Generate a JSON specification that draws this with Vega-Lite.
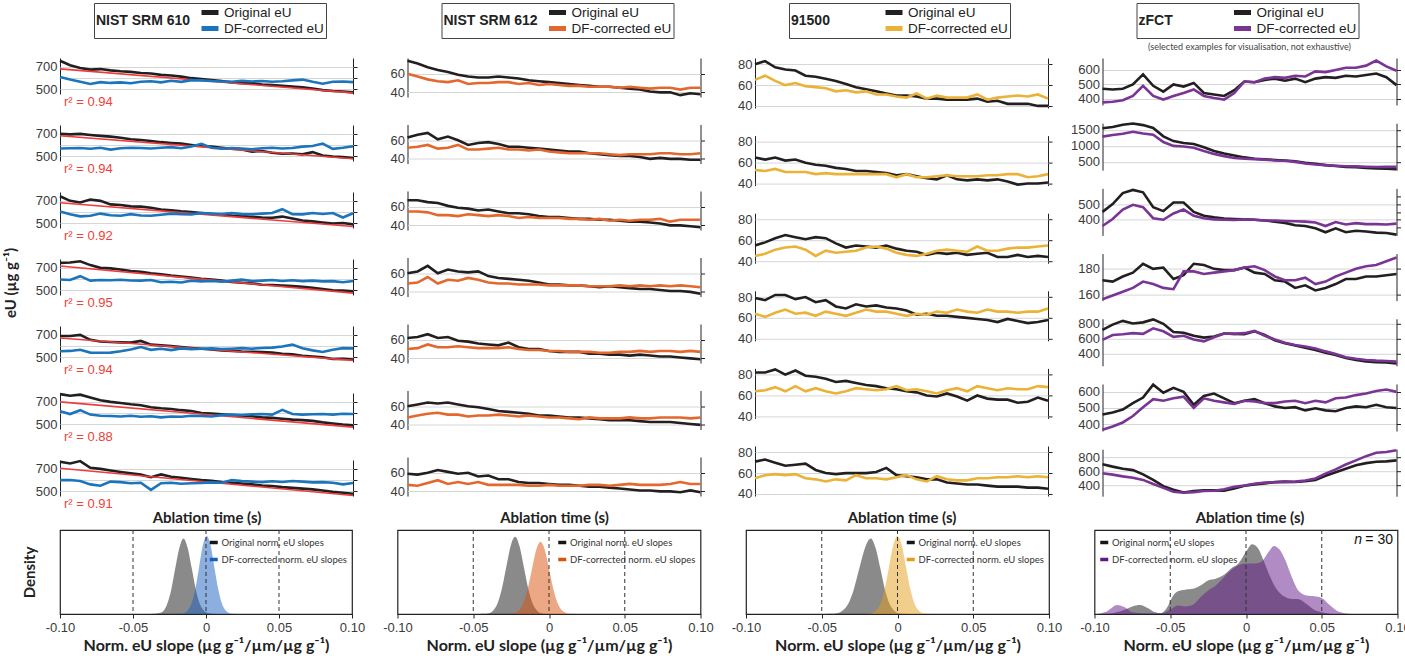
{
  "$schema": "https://vega.github.io/schema/vega-lite/v6.json",
  "padding": {"left": 3, "right": 2, "top": 2, "bottom": 0},
  "background": "white",
  "config": {
    "view": {"stroke": null},
    "font": "Liberation Sans",
    "axis": {"labelFont": "Liberation Sans", "labelColor": "#3a3a3a", "labelFontSize": 13},
    "axisY": {"gridColor": "#d6d6d6", "domainColor": "#222", "tickColor": "#222", "labelPadding": 3},
    "axisLeft": {"ticks": false, "minExtent": 32, "format": "d"},
    "axisRight": {"labels": false, "grid": false, "tickSize": 4},
    "legend": {"orient": "none", "direction": "vertical", "titleOrient": "left", "titleAnchor": "middle", "titleBaseline": "middle", "titleFont": "Liberation Sans", "titleFontSize": 14, "titleFontWeight": "bold", "titleColor": "#222", "titlePadding": 8, "labelFont": "Liberation Sans", "labelFontSize": 13.5, "labelColor": "#222", "labelOffset": 3, "symbolStrokeWidth": 5, "symbolSize": 289, "strokeColor": "#444", "padding": 2, "rowPadding": 1, "clipHeight": 15}
  },
  "datasets": {
    "c1": [
      {"p":1,"t":0,"o":755,"c":608,"f":682,"r":"r² = 0.94"},{"p":1,"t":1,"o":715,"c":585},{"p":1,"t":2,"o":690,"c":565},{"p":1,"t":3,"o":675,"c":545},{"p":1,"t":4,"o":680,"c":562},{"p":1,"t":5,"o":668,"c":555},{"p":1,"t":6,"o":660,"c":560},{"p":1,"t":7,"o":655,"c":552},{"p":1,"t":8,"o":645,"c":565},{"p":1,"t":9,"o":640,"c":570},{"p":1,"t":10,"o":628,"c":560},{"p":1,"t":11,"o":622,"c":575},{"p":1,"t":12,"o":612,"c":565},{"p":1,"t":13,"o":598,"c":580},{"p":1,"t":14,"o":590,"c":578},{"p":1,"t":15,"o":580,"c":572},{"p":1,"t":16,"o":572,"c":568},{"p":1,"t":17,"o":560,"c":565},{"p":1,"t":18,"o":552,"c":575},{"p":1,"t":19,"o":555,"c":568},{"p":1,"t":20,"o":540,"c":572},{"p":1,"t":21,"o":535,"c":565},{"p":1,"t":22,"o":528,"c":570},{"p":1,"t":23,"o":522,"c":578},{"p":1,"t":24,"o":515,"c":585},{"p":1,"t":25,"o":505,"c":565},{"p":1,"t":26,"o":490,"c":548},{"p":1,"t":27,"o":482,"c":565},{"p":1,"t":28,"o":478,"c":568},{"p":1,"t":29,"o":470,"c":562,"f":465},
      {"p":2,"t":0,"o":700,"c":568,"f":683,"r":"r² = 0.94"},{"p":2,"t":1,"o":695,"c":570},{"p":2,"t":2,"o":700,"c":572},{"p":2,"t":3,"o":690,"c":565},{"p":2,"t":4,"o":682,"c":575},{"p":2,"t":5,"o":675,"c":558},{"p":2,"t":6,"o":665,"c":570},{"p":2,"t":7,"o":652,"c":575},{"p":2,"t":8,"o":645,"c":572},{"p":2,"t":9,"o":635,"c":568},{"p":2,"t":10,"o":625,"c":575},{"p":2,"t":11,"o":618,"c":580},{"p":2,"t":12,"o":612,"c":570},{"p":2,"t":13,"o":600,"c":585},{"p":2,"t":14,"o":590,"c":610},{"p":2,"t":15,"o":585,"c":575},{"p":2,"t":16,"o":575,"c":565},{"p":2,"t":17,"o":565,"c":572},{"p":2,"t":18,"o":560,"c":568},{"p":2,"t":19,"o":540,"c":560},{"p":2,"t":20,"o":545,"c":570},{"p":2,"t":21,"o":530,"c":575},{"p":2,"t":22,"o":520,"c":568},{"p":2,"t":23,"o":522,"c":572},{"p":2,"t":24,"o":515,"c":585},{"p":2,"t":25,"o":535,"c":590},{"p":2,"t":26,"o":505,"c":612},{"p":2,"t":27,"o":495,"c":565},{"p":2,"t":28,"o":490,"c":575},{"p":2,"t":29,"o":482,"c":588,"f":475},
      {"p":3,"t":0,"o":742,"c":605,"f":683,"r":"r² = 0.92"},{"p":3,"t":1,"o":700,"c":580},{"p":3,"t":2,"o":685,"c":560},{"p":3,"t":3,"o":712,"c":565},{"p":3,"t":4,"o":700,"c":585},{"p":3,"t":5,"o":668,"c":570},{"p":3,"t":6,"o":662,"c":565},{"p":3,"t":7,"o":650,"c":580},{"p":3,"t":8,"o":648,"c":568},{"p":3,"t":9,"o":638,"c":565},{"p":3,"t":10,"o":622,"c":575},{"p":3,"t":11,"o":615,"c":585},{"p":3,"t":12,"o":605,"c":580},{"p":3,"t":13,"o":598,"c":578},{"p":3,"t":14,"o":590,"c":590},{"p":3,"t":15,"o":582,"c":585},{"p":3,"t":16,"o":575,"c":582},{"p":3,"t":17,"o":568,"c":590},{"p":3,"t":18,"o":565,"c":580},{"p":3,"t":19,"o":555,"c":578},{"p":3,"t":20,"o":550,"c":585},{"p":3,"t":21,"o":548,"c":590},{"p":3,"t":22,"o":558,"c":625},{"p":3,"t":23,"o":540,"c":580},{"p":3,"t":24,"o":522,"c":578},{"p":3,"t":25,"o":515,"c":590},{"p":3,"t":26,"o":505,"c":582},{"p":3,"t":27,"o":495,"c":590},{"p":3,"t":28,"o":500,"c":550},{"p":3,"t":29,"o":488,"c":588,"f":469},
      {"p":4,"t":0,"o":745,"c":595,"f":717,"r":"r² = 0.95"},{"p":4,"t":1,"o":748,"c":590},{"p":4,"t":2,"o":760,"c":625},{"p":4,"t":3,"o":725,"c":585},{"p":4,"t":4,"o":700,"c":590},{"p":4,"t":5,"o":695,"c":588},{"p":4,"t":6,"o":685,"c":592},{"p":4,"t":7,"o":672,"c":586},{"p":4,"t":8,"o":665,"c":585},{"p":4,"t":9,"o":652,"c":590},{"p":4,"t":10,"o":642,"c":570},{"p":4,"t":11,"o":630,"c":575},{"p":4,"t":12,"o":622,"c":568},{"p":4,"t":13,"o":612,"c":585},{"p":4,"t":14,"o":602,"c":578},{"p":4,"t":15,"o":595,"c":582},{"p":4,"t":16,"o":585,"c":575},{"p":4,"t":17,"o":572,"c":585},{"p":4,"t":18,"o":565,"c":595},{"p":4,"t":19,"o":560,"c":580},{"p":4,"t":20,"o":548,"c":585},{"p":4,"t":21,"o":545,"c":590},{"p":4,"t":22,"o":540,"c":582},{"p":4,"t":23,"o":535,"c":588},{"p":4,"t":24,"o":528,"c":580},{"p":4,"t":25,"o":520,"c":585},{"p":4,"t":26,"o":508,"c":578},{"p":4,"t":27,"o":498,"c":580},{"p":4,"t":28,"o":495,"c":570},{"p":4,"t":29,"o":488,"c":582,"f":472},
      {"p":5,"t":0,"o":690,"c":552,"f":672,"r":"r² = 0.94"},{"p":5,"t":1,"o":690,"c":555},{"p":5,"t":2,"o":700,"c":565},{"p":5,"t":3,"o":655,"c":540},{"p":5,"t":4,"o":640,"c":538},{"p":5,"t":5,"o":635,"c":540},{"p":5,"t":6,"o":632,"c":552},{"p":5,"t":7,"o":630,"c":568},{"p":5,"t":8,"o":645,"c":590},{"p":5,"t":9,"o":612,"c":565},{"p":5,"t":10,"o":605,"c":575},{"p":5,"t":11,"o":598,"c":562},{"p":5,"t":12,"o":590,"c":578},{"p":5,"t":13,"o":582,"c":570},{"p":5,"t":14,"o":575,"c":575},{"p":5,"t":15,"o":568,"c":578},{"p":5,"t":16,"o":560,"c":572},{"p":5,"t":17,"o":555,"c":575},{"p":5,"t":18,"o":550,"c":580},{"p":5,"t":19,"o":548,"c":575},{"p":5,"t":20,"o":545,"c":582},{"p":5,"t":21,"o":540,"c":585},{"p":5,"t":22,"o":530,"c":595},{"p":5,"t":23,"o":525,"c":612},{"p":5,"t":24,"o":512,"c":580},{"p":5,"t":25,"o":505,"c":560},{"p":5,"t":26,"o":498,"c":545},{"p":5,"t":27,"o":482,"c":565},{"p":5,"t":28,"o":485,"c":580},{"p":5,"t":29,"o":478,"c":578,"f":470},
      {"p":6,"t":0,"o":770,"c":615,"f":700,"r":"r² = 0.88"},{"p":6,"t":1,"o":755,"c":590},{"p":6,"t":2,"o":765,"c":625},{"p":6,"t":3,"o":740,"c":585},{"p":6,"t":4,"o":715,"c":575},{"p":6,"t":5,"o":700,"c":572},{"p":6,"t":6,"o":690,"c":568},{"p":6,"t":7,"o":678,"c":575},{"p":6,"t":8,"o":670,"c":565},{"p":6,"t":9,"o":652,"c":570},{"p":6,"t":10,"o":642,"c":560},{"p":6,"t":11,"o":635,"c":568},{"p":6,"t":12,"o":625,"c":565},{"p":6,"t":13,"o":618,"c":575},{"p":6,"t":14,"o":600,"c":572},{"p":6,"t":15,"o":595,"c":568},{"p":6,"t":16,"o":588,"c":580},{"p":6,"t":17,"o":582,"c":585},{"p":6,"t":18,"o":575,"c":580},{"p":6,"t":19,"o":570,"c":588},{"p":6,"t":20,"o":560,"c":590},{"p":6,"t":21,"o":555,"c":585},{"p":6,"t":22,"o":548,"c":628},{"p":6,"t":23,"o":540,"c":590},{"p":6,"t":24,"o":535,"c":585},{"p":6,"t":25,"o":528,"c":588},{"p":6,"t":26,"o":515,"c":590},{"p":6,"t":27,"o":505,"c":585},{"p":6,"t":28,"o":495,"c":592},{"p":6,"t":29,"o":488,"c":590,"f":472},
      {"p":7,"t":0,"o":765,"c":598,"f":705,"r":"r² = 0.91"},{"p":7,"t":1,"o":748,"c":600},{"p":7,"t":2,"o":770,"c":590},{"p":7,"t":3,"o":710,"c":560},{"p":7,"t":4,"o":700,"c":548},{"p":7,"t":5,"o":685,"c":585},{"p":7,"t":6,"o":672,"c":580},{"p":7,"t":7,"o":660,"c":570},{"p":7,"t":8,"o":648,"c":575},{"p":7,"t":9,"o":625,"c":510},{"p":7,"t":10,"o":650,"c":570},{"p":7,"t":11,"o":628,"c":575},{"p":7,"t":12,"o":620,"c":565},{"p":7,"t":13,"o":608,"c":570},{"p":7,"t":14,"o":598,"c":572},{"p":7,"t":15,"o":592,"c":578},{"p":7,"t":16,"o":582,"c":575},{"p":7,"t":17,"o":575,"c":598},{"p":7,"t":18,"o":568,"c":590},{"p":7,"t":19,"o":560,"c":585},{"p":7,"t":20,"o":550,"c":580},{"p":7,"t":21,"o":545,"c":588},{"p":7,"t":22,"o":535,"c":582},{"p":7,"t":23,"o":528,"c":590},{"p":7,"t":24,"o":522,"c":585},{"p":7,"t":25,"o":515,"c":578},{"p":7,"t":26,"o":505,"c":580},{"p":7,"t":27,"o":492,"c":575},{"p":7,"t":28,"o":485,"c":560},{"p":7,"t":29,"o":475,"c":572,"f":460}
    ],
    "c2": [
      {"p":1,"t":0,"o":74,"c":60},{"p":1,"t":1,"o":71,"c":57},{"p":1,"t":2,"o":67,"c":54},{"p":1,"t":3,"o":64,"c":52},{"p":1,"t":4,"o":62,"c":51},{"p":1,"t":5,"o":59,"c":53},{"p":1,"t":6,"o":57,"c":49},{"p":1,"t":7,"o":56,"c":50},{"p":1,"t":8,"o":56,"c":50},{"p":1,"t":9,"o":57,"c":51},{"p":1,"t":10,"o":56,"c":51},{"p":1,"t":11,"o":55,"c":49},{"p":1,"t":12,"o":53,"c":50},{"p":1,"t":13,"o":52,"c":48},{"p":1,"t":14,"o":51,"c":49},{"p":1,"t":15,"o":50,"c":48},{"p":1,"t":16,"o":49,"c":47},{"p":1,"t":17,"o":48,"c":47},{"p":1,"t":18,"o":47,"c":46},{"p":1,"t":19,"o":46,"c":46},{"p":1,"t":20,"o":46,"c":46},{"p":1,"t":21,"o":45,"c":45},{"p":1,"t":22,"o":44,"c":46},{"p":1,"t":23,"o":43,"c":45},{"p":1,"t":24,"o":41,"c":44},{"p":1,"t":25,"o":40,"c":45},{"p":1,"t":26,"o":40,"c":45},{"p":1,"t":27,"o":37,"c":43},{"p":1,"t":28,"o":39,"c":45},{"p":1,"t":29,"o":38,"c":45},
      {"p":2,"t":0,"o":63,"c":52},{"p":2,"t":1,"o":66,"c":53},{"p":2,"t":2,"o":68,"c":55},{"p":2,"t":3,"o":61,"c":51},{"p":2,"t":4,"o":64,"c":52},{"p":2,"t":5,"o":60,"c":55},{"p":2,"t":6,"o":55,"c":50},{"p":2,"t":7,"o":57,"c":50},{"p":2,"t":8,"o":58,"c":51},{"p":2,"t":9,"o":56,"c":52},{"p":2,"t":10,"o":53,"c":50},{"p":2,"t":11,"o":53,"c":50},{"p":2,"t":12,"o":52,"c":49},{"p":2,"t":13,"o":51,"c":50},{"p":2,"t":14,"o":50,"c":48},{"p":2,"t":15,"o":49,"c":47},{"p":2,"t":16,"o":48,"c":46},{"p":2,"t":17,"o":48,"c":46},{"p":2,"t":18,"o":46,"c":46},{"p":2,"t":19,"o":45,"c":46},{"p":2,"t":20,"o":44,"c":45},{"p":2,"t":21,"o":43,"c":44},{"p":2,"t":22,"o":43,"c":45},{"p":2,"t":23,"o":42,"c":45},{"p":2,"t":24,"o":40,"c":45},{"p":2,"t":25,"o":41,"c":46},{"p":2,"t":26,"o":40,"c":46},{"p":2,"t":27,"o":40,"c":45},{"p":2,"t":28,"o":39,"c":45},{"p":2,"t":29,"o":39,"c":46},
      {"p":3,"t":0,"o":67,"c":55},{"p":3,"t":1,"o":67,"c":55},{"p":3,"t":2,"o":65,"c":54},{"p":3,"t":3,"o":64,"c":51},{"p":3,"t":4,"o":61,"c":51},{"p":3,"t":5,"o":59,"c":50},{"p":3,"t":6,"o":58,"c":52},{"p":3,"t":7,"o":56,"c":51},{"p":3,"t":8,"o":57,"c":50},{"p":3,"t":9,"o":55,"c":51},{"p":3,"t":10,"o":53,"c":50},{"p":3,"t":11,"o":53,"c":48},{"p":3,"t":12,"o":52,"c":49},{"p":3,"t":13,"o":50,"c":48},{"p":3,"t":14,"o":49,"c":48},{"p":3,"t":15,"o":49,"c":48},{"p":3,"t":16,"o":48,"c":47},{"p":3,"t":17,"o":47,"c":47},{"p":3,"t":18,"o":47,"c":46},{"p":3,"t":19,"o":46,"c":47},{"p":3,"t":20,"o":46,"c":45},{"p":3,"t":21,"o":45,"c":46},{"p":3,"t":22,"o":44,"c":45},{"p":3,"t":23,"o":44,"c":46},{"p":3,"t":24,"o":43,"c":46},{"p":3,"t":25,"o":42,"c":47},{"p":3,"t":26,"o":40,"c":44},{"p":3,"t":27,"o":40,"c":46},{"p":3,"t":28,"o":39,"c":46},{"p":3,"t":29,"o":38,"c":46},
      {"p":4,"t":0,"o":60,"c":49},{"p":4,"t":1,"o":62,"c":50},{"p":4,"t":2,"o":68,"c":56},{"p":4,"t":3,"o":60,"c":49},{"p":4,"t":4,"o":64,"c":53},{"p":4,"t":5,"o":62,"c":52},{"p":4,"t":6,"o":61,"c":55},{"p":4,"t":7,"o":62,"c":53},{"p":4,"t":8,"o":57,"c":50},{"p":4,"t":9,"o":55,"c":49},{"p":4,"t":10,"o":54,"c":49},{"p":4,"t":11,"o":53,"c":48},{"p":4,"t":12,"o":52,"c":48},{"p":4,"t":13,"o":50,"c":48},{"p":4,"t":14,"o":48,"c":47},{"p":4,"t":15,"o":48,"c":47},{"p":4,"t":16,"o":47,"c":47},{"p":4,"t":17,"o":47,"c":47},{"p":4,"t":18,"o":46,"c":46},{"p":4,"t":19,"o":45,"c":46},{"p":4,"t":20,"o":46,"c":46},{"p":4,"t":21,"o":45,"c":47},{"p":4,"t":22,"o":44,"c":46},{"p":4,"t":23,"o":43,"c":47},{"p":4,"t":24,"o":43,"c":46},{"p":4,"t":25,"o":42,"c":47},{"p":4,"t":26,"o":41,"c":46},{"p":4,"t":27,"o":41,"c":47},{"p":4,"t":28,"o":40,"c":46},{"p":4,"t":29,"o":38,"c":45},
      {"p":5,"t":0,"o":62,"c":50},{"p":5,"t":1,"o":63,"c":51},{"p":5,"t":2,"o":66,"c":55},{"p":5,"t":3,"o":62,"c":52},{"p":5,"t":4,"o":63,"c":52},{"p":5,"t":5,"o":59,"c":53},{"p":5,"t":6,"o":58,"c":52},{"p":5,"t":7,"o":56,"c":51},{"p":5,"t":8,"o":55,"c":51},{"p":5,"t":9,"o":54,"c":51},{"p":5,"t":10,"o":57,"c":52},{"p":5,"t":11,"o":52,"c":50},{"p":5,"t":12,"o":50,"c":49},{"p":5,"t":13,"o":50,"c":49},{"p":5,"t":14,"o":48,"c":48},{"p":5,"t":15,"o":47,"c":48},{"p":5,"t":16,"o":47,"c":47},{"p":5,"t":17,"o":47,"c":47},{"p":5,"t":18,"o":45,"c":47},{"p":5,"t":19,"o":45,"c":46},{"p":5,"t":20,"o":44,"c":46},{"p":5,"t":21,"o":44,"c":47},{"p":5,"t":22,"o":43,"c":47},{"p":5,"t":23,"o":44,"c":48},{"p":5,"t":24,"o":43,"c":47},{"p":5,"t":25,"o":42,"c":48},{"p":5,"t":26,"o":42,"c":48},{"p":5,"t":27,"o":41,"c":47},{"p":5,"t":28,"o":40,"c":48},{"p":5,"t":29,"o":39,"c":47},
      {"p":6,"t":0,"o":60,"c":48},{"p":6,"t":1,"o":62,"c":50},{"p":6,"t":2,"o":64,"c":52},{"p":6,"t":3,"o":63,"c":53},{"p":6,"t":4,"o":64,"c":51},{"p":6,"t":5,"o":62,"c":51},{"p":6,"t":6,"o":60,"c":49},{"p":6,"t":7,"o":59,"c":50},{"p":6,"t":8,"o":57,"c":50},{"p":6,"t":9,"o":55,"c":51},{"p":6,"t":10,"o":54,"c":50},{"p":6,"t":11,"o":53,"c":49},{"p":6,"t":12,"o":52,"c":50},{"p":6,"t":13,"o":50,"c":49},{"p":6,"t":14,"o":50,"c":48},{"p":6,"t":15,"o":49,"c":48},{"p":6,"t":16,"o":48,"c":47},{"p":6,"t":17,"o":48,"c":46},{"p":6,"t":18,"o":47,"c":48},{"p":6,"t":19,"o":46,"c":47},{"p":6,"t":20,"o":45,"c":47},{"p":6,"t":21,"o":45,"c":47},{"p":6,"t":22,"o":45,"c":48},{"p":6,"t":23,"o":44,"c":47},{"p":6,"t":24,"o":43,"c":47},{"p":6,"t":25,"o":43,"c":48},{"p":6,"t":26,"o":43,"c":48},{"p":6,"t":27,"o":42,"c":48},{"p":6,"t":28,"o":41,"c":47},{"p":6,"t":29,"o":40,"c":48},
      {"p":7,"t":0,"o":59,"c":47},{"p":7,"t":1,"o":58,"c":46},{"p":7,"t":2,"o":60,"c":49},{"p":7,"t":3,"o":63,"c":52},{"p":7,"t":4,"o":61,"c":48},{"p":7,"t":5,"o":59,"c":50},{"p":7,"t":6,"o":60,"c":48},{"p":7,"t":7,"o":56,"c":50},{"p":7,"t":8,"o":57,"c":47},{"p":7,"t":9,"o":53,"c":47},{"p":7,"t":10,"o":53,"c":47},{"p":7,"t":11,"o":50,"c":47},{"p":7,"t":12,"o":49,"c":46},{"p":7,"t":13,"o":49,"c":46},{"p":7,"t":14,"o":48,"c":47},{"p":7,"t":15,"o":47,"c":46},{"p":7,"t":16,"o":47,"c":46},{"p":7,"t":17,"o":46,"c":46},{"p":7,"t":18,"o":45,"c":47},{"p":7,"t":19,"o":45,"c":47},{"p":7,"t":20,"o":44,"c":46},{"p":7,"t":21,"o":43,"c":47},{"p":7,"t":22,"o":42,"c":48},{"p":7,"t":23,"o":41,"c":47},{"p":7,"t":24,"o":41,"c":47},{"p":7,"t":25,"o":40,"c":47},{"p":7,"t":26,"o":40,"c":48},{"p":7,"t":27,"o":39,"c":50},{"p":7,"t":28,"o":41,"c":48},{"p":7,"t":29,"o":39,"c":48}
    ],
    "c3": [
      {"p":1,"t":0,"o":80,"c":65},{"p":1,"t":1,"o":83,"c":69},{"p":1,"t":2,"o":77,"c":64},{"p":1,"t":3,"o":75,"c":60},{"p":1,"t":4,"o":74,"c":62},{"p":1,"t":5,"o":69,"c":59},{"p":1,"t":6,"o":68,"c":58},{"p":1,"t":7,"o":66,"c":57},{"p":1,"t":8,"o":64,"c":54},{"p":1,"t":9,"o":61,"c":55},{"p":1,"t":10,"o":58,"c":53},{"p":1,"t":11,"o":56,"c":54},{"p":1,"t":12,"o":54,"c":51},{"p":1,"t":13,"o":52,"c":51},{"p":1,"t":14,"o":50,"c":49},{"p":1,"t":15,"o":50,"c":48},{"p":1,"t":16,"o":49,"c":52},{"p":1,"t":17,"o":47,"c":47},{"p":1,"t":18,"o":47,"c":50},{"p":1,"t":19,"o":46,"c":48},{"p":1,"t":20,"o":46,"c":48},{"p":1,"t":21,"o":46,"c":48},{"p":1,"t":22,"o":47,"c":51},{"p":1,"t":23,"o":44,"c":46},{"p":1,"t":24,"o":45,"c":48},{"p":1,"t":25,"o":42,"c":49},{"p":1,"t":26,"o":42,"c":50},{"p":1,"t":27,"o":42,"c":49},{"p":1,"t":28,"o":40,"c":51},{"p":1,"t":29,"o":40,"c":47},
      {"p":2,"t":0,"o":65,"c":53},{"p":2,"t":1,"o":63,"c":52},{"p":2,"t":2,"o":65,"c":54},{"p":2,"t":3,"o":62,"c":51},{"p":2,"t":4,"o":63,"c":51},{"p":2,"t":5,"o":60,"c":51},{"p":2,"t":6,"o":58,"c":49},{"p":2,"t":7,"o":57,"c":50},{"p":2,"t":8,"o":55,"c":49},{"p":2,"t":9,"o":54,"c":49},{"p":2,"t":10,"o":52,"c":49},{"p":2,"t":11,"o":52,"c":49},{"p":2,"t":12,"o":51,"c":49},{"p":2,"t":13,"o":50,"c":49},{"p":2,"t":14,"o":48,"c":46},{"p":2,"t":15,"o":49,"c":49},{"p":2,"t":16,"o":47,"c":46},{"p":2,"t":17,"o":45,"c":46},{"p":2,"t":18,"o":44,"c":47},{"p":2,"t":19,"o":48,"c":48},{"p":2,"t":20,"o":44,"c":47},{"p":2,"t":21,"o":43,"c":47},{"p":2,"t":22,"o":44,"c":47},{"p":2,"t":23,"o":43,"c":48},{"p":2,"t":24,"o":44,"c":48},{"p":2,"t":25,"o":42,"c":49},{"p":2,"t":26,"o":39,"c":49},{"p":2,"t":27,"o":40,"c":46},{"p":2,"t":28,"o":40,"c":47},{"p":2,"t":29,"o":41,"c":49},
      {"p":3,"t":0,"o":55,"c":45},{"p":3,"t":1,"o":58,"c":47},{"p":3,"t":2,"o":62,"c":51},{"p":3,"t":3,"o":65,"c":53},{"p":3,"t":4,"o":63,"c":54},{"p":3,"t":5,"o":61,"c":51},{"p":3,"t":6,"o":63,"c":45},{"p":3,"t":7,"o":62,"c":50},{"p":3,"t":8,"o":57,"c":48},{"p":3,"t":9,"o":53,"c":49},{"p":3,"t":10,"o":55,"c":50},{"p":3,"t":11,"o":54,"c":53},{"p":3,"t":12,"o":53,"c":54},{"p":3,"t":13,"o":55,"c":52},{"p":3,"t":14,"o":52,"c":48},{"p":3,"t":15,"o":50,"c":46},{"p":3,"t":16,"o":49,"c":45},{"p":3,"t":17,"o":46,"c":47},{"p":3,"t":18,"o":48,"c":50},{"p":3,"t":19,"o":47,"c":51},{"p":3,"t":20,"o":48,"c":50},{"p":3,"t":21,"o":46,"c":49},{"p":3,"t":22,"o":47,"c":54},{"p":3,"t":23,"o":48,"c":50},{"p":3,"t":24,"o":44,"c":50},{"p":3,"t":25,"o":44,"c":52},{"p":3,"t":26,"o":46,"c":53},{"p":3,"t":27,"o":44,"c":53},{"p":3,"t":28,"o":45,"c":54},{"p":3,"t":29,"o":44,"c":55},
      {"p":4,"t":0,"o":79,"c":64},{"p":4,"t":1,"o":77,"c":61},{"p":4,"t":2,"o":82,"c":65},{"p":4,"t":3,"o":82,"c":68},{"p":4,"t":4,"o":78,"c":64},{"p":4,"t":5,"o":80,"c":65},{"p":4,"t":6,"o":75,"c":62},{"p":4,"t":7,"o":77,"c":66},{"p":4,"t":8,"o":71,"c":64},{"p":4,"t":9,"o":69,"c":62},{"p":4,"t":10,"o":73,"c":65},{"p":4,"t":11,"o":71,"c":68},{"p":4,"t":12,"o":72,"c":66},{"p":4,"t":13,"o":70,"c":66},{"p":4,"t":14,"o":69,"c":64},{"p":4,"t":15,"o":67,"c":62},{"p":4,"t":16,"o":63,"c":64},{"p":4,"t":17,"o":64,"c":63},{"p":4,"t":18,"o":62,"c":66},{"p":4,"t":19,"o":62,"c":65},{"p":4,"t":20,"o":61,"c":68},{"p":4,"t":21,"o":60,"c":66},{"p":4,"t":22,"o":59,"c":65},{"p":4,"t":23,"o":58,"c":68},{"p":4,"t":24,"o":56,"c":66},{"p":4,"t":25,"o":59,"c":66},{"p":4,"t":26,"o":57,"c":65},{"p":4,"t":27,"o":55,"c":66},{"p":4,"t":28,"o":56,"c":66},{"p":4,"t":29,"o":58,"c":69},
      {"p":5,"t":0,"o":82,"c":64},{"p":5,"t":1,"o":82,"c":65},{"p":5,"t":2,"o":85,"c":68},{"p":5,"t":3,"o":80,"c":64},{"p":5,"t":4,"o":84,"c":69},{"p":5,"t":5,"o":79,"c":64},{"p":5,"t":6,"o":78,"c":67},{"p":5,"t":7,"o":76,"c":64},{"p":5,"t":8,"o":73,"c":62},{"p":5,"t":9,"o":74,"c":64},{"p":5,"t":10,"o":72,"c":67},{"p":5,"t":11,"o":70,"c":66},{"p":5,"t":12,"o":69,"c":65},{"p":5,"t":13,"o":67,"c":66},{"p":5,"t":14,"o":66,"c":69},{"p":5,"t":15,"o":64,"c":65},{"p":5,"t":16,"o":63,"c":66},{"p":5,"t":17,"o":60,"c":64},{"p":5,"t":18,"o":59,"c":62},{"p":5,"t":19,"o":62,"c":65},{"p":5,"t":20,"o":59,"c":67},{"p":5,"t":21,"o":55,"c":64},{"p":5,"t":22,"o":60,"c":69},{"p":5,"t":23,"o":57,"c":67},{"p":5,"t":24,"o":56,"c":65},{"p":5,"t":25,"o":56,"c":67},{"p":5,"t":26,"o":53,"c":66},{"p":5,"t":27,"o":54,"c":66},{"p":5,"t":28,"o":58,"c":69},{"p":5,"t":29,"o":55,"c":68},
      {"p":6,"t":0,"o":71,"c":55},{"p":6,"t":1,"o":73,"c":58},{"p":6,"t":2,"o":70,"c":59},{"p":6,"t":3,"o":67,"c":58},{"p":6,"t":4,"o":68,"c":59},{"p":6,"t":5,"o":69,"c":55},{"p":6,"t":6,"o":63,"c":54},{"p":6,"t":7,"o":60,"c":52},{"p":6,"t":8,"o":59,"c":54},{"p":6,"t":9,"o":60,"c":53},{"p":6,"t":10,"o":60,"c":58},{"p":6,"t":11,"o":60,"c":55},{"p":6,"t":12,"o":61,"c":55},{"p":6,"t":13,"o":65,"c":54},{"p":6,"t":14,"o":58,"c":56},{"p":6,"t":15,"o":57,"c":58},{"p":6,"t":16,"o":56,"c":54},{"p":6,"t":17,"o":54,"c":52},{"p":6,"t":18,"o":54,"c":57},{"p":6,"t":19,"o":51,"c":54},{"p":6,"t":20,"o":50,"c":53},{"p":6,"t":21,"o":49,"c":53},{"p":6,"t":22,"o":49,"c":55},{"p":6,"t":23,"o":48,"c":55},{"p":6,"t":24,"o":47,"c":56},{"p":6,"t":25,"o":47,"c":56},{"p":6,"t":26,"o":47,"c":57},{"p":6,"t":27,"o":46,"c":56},{"p":6,"t":28,"o":46,"c":57},{"p":6,"t":29,"o":45,"c":56}
    ],
    "c4": [
      {"p":1,"t":0,"o":470,"c":375},{"p":1,"t":1,"o":465,"c":380},{"p":1,"t":2,"o":470,"c":390},{"p":1,"t":3,"o":500,"c":420},{"p":1,"t":4,"o":570,"c":490},{"p":1,"t":5,"o":490,"c":420},{"p":1,"t":6,"o":450,"c":395},{"p":1,"t":7,"o":500,"c":420},{"p":1,"t":8,"o":485,"c":440},{"p":1,"t":9,"o":510,"c":465},{"p":1,"t":10,"o":440,"c":420},{"p":1,"t":11,"o":430,"c":405},{"p":1,"t":12,"o":420,"c":395},{"p":1,"t":13,"o":460,"c":440},{"p":1,"t":14,"o":520,"c":520},{"p":1,"t":15,"o":515,"c":515},{"p":1,"t":16,"o":530,"c":540},{"p":1,"t":17,"o":540,"c":550},{"p":1,"t":18,"o":525,"c":545},{"p":1,"t":19,"o":540,"c":560},{"p":1,"t":20,"o":515,"c":555},{"p":1,"t":21,"o":540,"c":590},{"p":1,"t":22,"o":550,"c":585},{"p":1,"t":23,"o":545,"c":600},{"p":1,"t":24,"o":560,"c":615},{"p":1,"t":25,"o":555,"c":615},{"p":1,"t":26,"o":565,"c":630},{"p":1,"t":27,"o":575,"c":665},{"p":1,"t":28,"o":550,"c":625},{"p":1,"t":29,"o":495,"c":595},
      {"p":2,"t":0,"o":1550,"c":1290},{"p":2,"t":1,"o":1590,"c":1340},{"p":2,"t":2,"o":1660,"c":1380},{"p":2,"t":3,"o":1700,"c":1440},{"p":2,"t":4,"o":1650,"c":1390},{"p":2,"t":5,"o":1560,"c":1350},{"p":2,"t":6,"o":1300,"c":1120},{"p":2,"t":7,"o":1150,"c":1000},{"p":2,"t":8,"o":1090,"c":980},{"p":2,"t":9,"o":1060,"c":940},{"p":2,"t":10,"o":960,"c":840},{"p":2,"t":11,"o":840,"c":750},{"p":2,"t":12,"o":760,"c":680},{"p":2,"t":13,"o":700,"c":620},{"p":2,"t":14,"o":640,"c":600},{"p":2,"t":15,"o":600,"c":585},{"p":2,"t":16,"o":580,"c":570},{"p":2,"t":17,"o":560,"c":545},{"p":2,"t":18,"o":545,"c":535},{"p":2,"t":19,"o":520,"c":500},{"p":2,"t":20,"o":470,"c":450},{"p":2,"t":21,"o":440,"c":420},{"p":2,"t":22,"o":400,"c":400},{"p":2,"t":23,"o":370,"c":380},{"p":2,"t":24,"o":345,"c":365},{"p":2,"t":25,"o":330,"c":360},{"p":2,"t":26,"o":310,"c":350},{"p":2,"t":27,"o":295,"c":340},{"p":2,"t":28,"o":285,"c":345},{"p":2,"t":29,"o":275,"c":345},
      {"p":3,"t":0,"o":450,"c":360},{"p":3,"t":1,"o":500,"c":405},{"p":3,"t":2,"o":570,"c":465},{"p":3,"t":3,"o":590,"c":495},{"p":3,"t":4,"o":575,"c":480},{"p":3,"t":5,"o":480,"c":410},{"p":3,"t":6,"o":455,"c":400},{"p":3,"t":7,"o":510,"c":440},{"p":3,"t":8,"o":510,"c":465},{"p":3,"t":9,"o":450,"c":425},{"p":3,"t":10,"o":425,"c":410},{"p":3,"t":11,"o":415,"c":402},{"p":3,"t":12,"o":408,"c":400},{"p":3,"t":13,"o":405,"c":398},{"p":3,"t":14,"o":402,"c":402},{"p":3,"t":15,"o":400,"c":400},{"p":3,"t":16,"o":395,"c":395},{"p":3,"t":17,"o":388,"c":395},{"p":3,"t":18,"o":380,"c":392},{"p":3,"t":19,"o":365,"c":390},{"p":3,"t":20,"o":360,"c":388},{"p":3,"t":21,"o":345,"c":382},{"p":3,"t":22,"o":320,"c":360},{"p":3,"t":23,"o":345,"c":385},{"p":3,"t":24,"o":320,"c":370},{"p":3,"t":25,"o":330,"c":378},{"p":3,"t":26,"o":325,"c":372},{"p":3,"t":27,"o":318,"c":372},{"p":3,"t":28,"o":315,"c":370},{"p":3,"t":29,"o":305,"c":375},
      {"p":4,"t":0,"o":171,"c":156},{"p":4,"t":1,"o":170,"c":159},{"p":4,"t":2,"o":174,"c":162},{"p":4,"t":3,"o":177,"c":165},{"p":4,"t":4,"o":184,"c":170},{"p":4,"t":5,"o":180,"c":168},{"p":4,"t":6,"o":181,"c":165},{"p":4,"t":7,"o":172,"c":164},{"p":4,"t":8,"o":175,"c":178},{"p":4,"t":9,"o":184,"c":178},{"p":4,"t":10,"o":183,"c":176},{"p":4,"t":11,"o":180,"c":177},{"p":4,"t":12,"o":179,"c":178},{"p":4,"t":13,"o":179,"c":179},{"p":4,"t":14,"o":181,"c":181},{"p":4,"t":15,"o":177,"c":182},{"p":4,"t":16,"o":176,"c":179},{"p":4,"t":17,"o":171,"c":174},{"p":4,"t":18,"o":170,"c":171},{"p":4,"t":19,"o":165,"c":171},{"p":4,"t":20,"o":167,"c":173},{"p":4,"t":21,"o":163,"c":168},{"p":4,"t":22,"o":165,"c":170},{"p":4,"t":23,"o":168,"c":174},{"p":4,"t":24,"o":172,"c":177},{"p":4,"t":25,"o":172,"c":180},{"p":4,"t":26,"o":174,"c":182},{"p":4,"t":27,"o":174,"c":183},{"p":4,"t":28,"o":175,"c":186},{"p":4,"t":29,"o":176,"c":189},
      {"p":5,"t":0,"o":720,"c":585},{"p":5,"t":1,"o":790,"c":650},{"p":5,"t":2,"o":840,"c":660},{"p":5,"t":3,"o":805,"c":675},{"p":5,"t":4,"o":820,"c":665},{"p":5,"t":5,"o":860,"c":740},{"p":5,"t":6,"o":800,"c":700},{"p":5,"t":7,"o":690,"c":625},{"p":5,"t":8,"o":680,"c":640},{"p":5,"t":9,"o":640,"c":590},{"p":5,"t":10,"o":615,"c":565},{"p":5,"t":11,"o":630,"c":620},{"p":5,"t":12,"o":670,"c":670},{"p":5,"t":13,"o":665,"c":665},{"p":5,"t":14,"o":660,"c":675},{"p":5,"t":15,"o":700,"c":705},{"p":5,"t":16,"o":650,"c":640},{"p":5,"t":17,"o":580,"c":590},{"p":5,"t":18,"o":540,"c":545},{"p":5,"t":19,"o":510,"c":515},{"p":5,"t":20,"o":480,"c":495},{"p":5,"t":21,"o":450,"c":470},{"p":5,"t":22,"o":410,"c":430},{"p":5,"t":23,"o":380,"c":395},{"p":5,"t":24,"o":340,"c":350},{"p":5,"t":25,"o":315,"c":330},{"p":5,"t":26,"o":295,"c":315},{"p":5,"t":27,"o":285,"c":305},{"p":5,"t":28,"o":280,"c":300},{"p":5,"t":29,"o":268,"c":292},
      {"p":6,"t":0,"o":460,"c":365},{"p":6,"t":1,"o":472,"c":385},{"p":6,"t":2,"o":490,"c":410},{"p":6,"t":3,"o":530,"c":450},{"p":6,"t":4,"o":565,"c":505},{"p":6,"t":5,"o":645,"c":555},{"p":6,"t":6,"o":595,"c":545},{"p":6,"t":7,"o":625,"c":560},{"p":6,"t":8,"o":600,"c":570},{"p":6,"t":9,"o":520,"c":500},{"p":6,"t":10,"o":575,"c":560},{"p":6,"t":11,"o":590,"c":545},{"p":6,"t":12,"o":560,"c":535},{"p":6,"t":13,"o":530,"c":525},{"p":6,"t":14,"o":545,"c":545},{"p":6,"t":15,"o":555,"c":540},{"p":6,"t":16,"o":530,"c":530},{"p":6,"t":17,"o":510,"c":530},{"p":6,"t":18,"o":500,"c":540},{"p":6,"t":19,"o":505,"c":545},{"p":6,"t":20,"o":485,"c":530},{"p":6,"t":21,"o":498,"c":545},{"p":6,"t":22,"o":485,"c":535},{"p":6,"t":23,"o":480,"c":560},{"p":6,"t":24,"o":500,"c":565},{"p":6,"t":25,"o":510,"c":580},{"p":6,"t":26,"o":505,"c":590},{"p":6,"t":27,"o":520,"c":605},{"p":6,"t":28,"o":505,"c":615},{"p":6,"t":29,"o":500,"c":600},
      {"p":7,"t":0,"o":705,"c":575},{"p":7,"t":1,"o":670,"c":555},{"p":7,"t":2,"o":640,"c":530},{"p":7,"t":3,"o":620,"c":510},{"p":7,"t":4,"o":560,"c":480},{"p":7,"t":5,"o":480,"c":420},{"p":7,"t":6,"o":390,"c":365},{"p":7,"t":7,"o":340,"c":310},{"p":7,"t":8,"o":300,"c":295},{"p":7,"t":9,"o":320,"c":305},{"p":7,"t":10,"o":330,"c":320},{"p":7,"t":11,"o":330,"c":325},{"p":7,"t":12,"o":325,"c":345},{"p":7,"t":13,"o":355,"c":380},{"p":7,"t":14,"o":395,"c":400},{"p":7,"t":15,"o":415,"c":425},{"p":7,"t":16,"o":430,"c":440},{"p":7,"t":17,"o":448,"c":445},{"p":7,"t":18,"o":455,"c":452},{"p":7,"t":19,"o":450,"c":455},{"p":7,"t":20,"o":460,"c":470},{"p":7,"t":21,"o":480,"c":500},{"p":7,"t":22,"o":540,"c":570},{"p":7,"t":23,"o":590,"c":630},{"p":7,"t":24,"o":640,"c":700},{"p":7,"t":25,"o":690,"c":760},{"p":7,"t":26,"o":720,"c":820},{"p":7,"t":27,"o":740,"c":870},{"p":7,"t":28,"o":745,"c":880},{"p":7,"t":29,"o":760,"c":905}
    ],
    "d1": [
      {"x":-0.038,"g":"o","d":0},{"x":-0.035,"g":"o","d":0.002},{"x":-0.032,"g":"o","d":0.011},{"x":-0.029,"g":"o","d":0.04},{"x":-0.0266,"g":"o","d":0.12},{"x":-0.0238,"g":"o","d":0.29},{"x":-0.021,"g":"o","d":0.55},{"x":-0.0182,"g":"o","d":0.79},{"x":-0.0154,"g":"o","d":0.9},{"x":-0.0126,"g":"o","d":0.79},{"x":-0.0098,"g":"o","d":0.55},{"x":-0.007,"g":"o","d":0.29},{"x":-0.0042,"g":"o","d":0.12},{"x":-0.0014,"g":"o","d":0.04},{"x":0.0014,"g":"o","d":0.011},{"x":0.0042,"g":"o","d":0.002},{"x":0.007,"g":"o","d":0},
      {"x":-0.02,"g":"c","d":0},{"x":-0.0177,"g":"c","d":0.002},{"x":-0.0151,"g":"c","d":0.01},{"x":-0.0125,"g":"c","d":0.041},{"x":-0.0099,"g":"c","d":0.126},{"x":-0.0073,"g":"c","d":0.3},{"x":-0.0047,"g":"c","d":0.56},{"x":-0.0021,"g":"c","d":0.82},{"x":0.0005,"g":"c","d":0.93},{"x":0.0031,"g":"c","d":0.82},{"x":0.0057,"g":"c","d":0.56},{"x":0.0083,"g":"c","d":0.3},{"x":0.0109,"g":"c","d":0.126},{"x":0.0135,"g":"c","d":0.041},{"x":0.0161,"g":"c","d":0.01},{"x":0.0187,"g":"c","d":0.002},{"x":0.021,"g":"c","d":0}
    ],
    "d2": [
      {"x":-0.046,"g":"o","d":0},{"x":-0.0427,"g":"o","d":0.002},{"x":-0.0398,"g":"o","d":0.01},{"x":-0.0369,"g":"o","d":0.04},{"x":-0.034,"g":"o","d":0.124},{"x":-0.0311,"g":"o","d":0.3},{"x":-0.0282,"g":"o","d":0.56},{"x":-0.0253,"g":"o","d":0.81},{"x":-0.0224,"g":"o","d":0.92},{"x":-0.0195,"g":"o","d":0.81},{"x":-0.0166,"g":"o","d":0.56},{"x":-0.0137,"g":"o","d":0.3},{"x":-0.0108,"g":"o","d":0.124},{"x":-0.0079,"g":"o","d":0.04},{"x":-0.005,"g":"o","d":0.01},{"x":-0.0021,"g":"o","d":0.002},{"x":0.001,"g":"o","d":0},
      {"x":-0.029,"g":"c","d":0},{"x":-0.0259,"g":"c","d":0.002},{"x":-0.023,"g":"c","d":0.01},{"x":-0.0201,"g":"c","d":0.038},{"x":-0.0172,"g":"c","d":0.116},{"x":-0.0143,"g":"c","d":0.28},{"x":-0.0114,"g":"c","d":0.52},{"x":-0.0085,"g":"c","d":0.76},{"x":-0.0056,"g":"c","d":0.86},{"x":-0.0027,"g":"c","d":0.76},{"x":0.0002,"g":"c","d":0.52},{"x":0.0031,"g":"c","d":0.28},{"x":0.006,"g":"c","d":0.116},{"x":0.0089,"g":"c","d":0.038},{"x":0.0118,"g":"c","d":0.01},{"x":0.0147,"g":"c","d":0.002},{"x":0.018,"g":"c","d":0}
    ],
    "d3": [
      {"x":-0.047,"g":"o","d":0},{"x":-0.0439,"g":"o","d":0.002},{"x":-0.0401,"g":"o","d":0.01},{"x":-0.0364,"g":"o","d":0.04},{"x":-0.0326,"g":"o","d":0.12},{"x":-0.0289,"g":"o","d":0.29},{"x":-0.0251,"g":"o","d":0.55},{"x":-0.0214,"g":"o","d":0.79},{"x":-0.0176,"g":"o","d":0.9},{"x":-0.0145,"g":"o","d":0.79},{"x":-0.0114,"g":"o","d":0.55},{"x":-0.0083,"g":"o","d":0.29},{"x":-0.0052,"g":"o","d":0.12},{"x":-0.0021,"g":"o","d":0.04},{"x":0.001,"g":"o","d":0.01},{"x":0.0041,"g":"o","d":0.002},{"x":0.007,"g":"o","d":0},
      {"x":-0.022,"g":"c","d":0},{"x":-0.0196,"g":"c","d":0.002},{"x":-0.0168,"g":"c","d":0.01},{"x":-0.014,"g":"c","d":0.041},{"x":-0.0112,"g":"c","d":0.126},{"x":-0.0084,"g":"c","d":0.3},{"x":-0.0056,"g":"c","d":0.56},{"x":-0.0028,"g":"c","d":0.82},{"x":0,"g":"c","d":0.93},{"x":0.0028,"g":"c","d":0.82},{"x":0.0056,"g":"c","d":0.56},{"x":0.0084,"g":"c","d":0.3},{"x":0.0112,"g":"c","d":0.126},{"x":0.014,"g":"c","d":0.041},{"x":0.0168,"g":"c","d":0.01},{"x":0.0196,"g":"c","d":0.002},{"x":0.022,"g":"c","d":0}
    ],
    "d4": [
      {"x":-0.095,"g":"o","d":0},{"x":-0.088,"g":"o","d":0.01},{"x":-0.08,"g":"o","d":0.05},{"x":-0.075,"g":"o","d":0.09},{"x":-0.07,"g":"o","d":0.107},{"x":-0.065,"g":"o","d":0.07},{"x":-0.06,"g":"o","d":0.02},{"x":-0.056,"g":"o","d":0.01},{"x":-0.052,"g":"o","d":0.08},{"x":-0.048,"g":"o","d":0.22},{"x":-0.045,"g":"o","d":0.27},{"x":-0.04,"g":"o","d":0.29},{"x":-0.035,"g":"o","d":0.3},{"x":-0.03,"g":"o","d":0.34},{"x":-0.025,"g":"o","d":0.4},{"x":-0.02,"g":"o","d":0.42},{"x":-0.015,"g":"o","d":0.46},{"x":-0.01,"g":"o","d":0.54},{"x":-0.005,"g":"o","d":0.6},{"x":0,"g":"o","d":0.74},{"x":0.004,"g":"o","d":0.83},{"x":0.008,"g":"o","d":0.78},{"x":0.012,"g":"o","d":0.62},{"x":0.016,"g":"o","d":0.44},{"x":0.02,"g":"o","d":0.3},{"x":0.025,"g":"o","d":0.21},{"x":0.03,"g":"o","d":0.18},{"x":0.034,"g":"o","d":0.18},{"x":0.04,"g":"o","d":0.12},{"x":0.045,"g":"o","d":0.05},{"x":0.05,"g":"o","d":0.02},{"x":0.056,"g":"o","d":0},
      {"x":-0.098,"g":"c","d":0},{"x":-0.092,"g":"c","d":0.03},{"x":-0.085,"g":"c","d":0.107},{"x":-0.08,"g":"c","d":0.08},{"x":-0.075,"g":"c","d":0.02},{"x":-0.07,"g":"c","d":0.01},{"x":-0.06,"g":"c","d":0.005},{"x":-0.055,"g":"c","d":0.01},{"x":-0.05,"g":"c","d":0.05},{"x":-0.045,"g":"c","d":0.1},{"x":-0.04,"g":"c","d":0.09},{"x":-0.035,"g":"c","d":0.11},{"x":-0.03,"g":"c","d":0.2},{"x":-0.025,"g":"c","d":0.28},{"x":-0.02,"g":"c","d":0.34},{"x":-0.015,"g":"c","d":0.43},{"x":-0.01,"g":"c","d":0.52},{"x":-0.005,"g":"c","d":0.58},{"x":0,"g":"c","d":0.6},{"x":0.005,"g":"c","d":0.6},{"x":0.01,"g":"c","d":0.62},{"x":0.015,"g":"c","d":0.74},{"x":0.0185,"g":"c","d":0.81},{"x":0.022,"g":"c","d":0.77},{"x":0.026,"g":"c","d":0.64},{"x":0.03,"g":"c","d":0.45},{"x":0.035,"g":"c","d":0.27},{"x":0.04,"g":"c","d":0.22},{"x":0.045,"g":"c","d":0.21},{"x":0.05,"g":"c","d":0.19},{"x":0.055,"g":"c","d":0.11},{"x":0.06,"g":"c","d":0.04},{"x":0.065,"g":"c","d":0.01},{"x":0.07,"g":"c","d":0}
    ],
    "refs": [{"v": -0.05}, {"v": 0}, {"v": 0.05}]
  },
  "vconcat": [
    {
      "hconcat": [
        {
          "data": {"name": "c1"},
          "facet": {"row": {"field": "p", "type": "ordinal", "title": "eU (µg g⁻¹)", "header": {"labels": false, "titleFont": "Lato", "titleFontSize": 15, "titleFontWeight": "bold", "titleColor": "#222", "titlePadding": 2}}},
          "spacing": {"row": 31},
          "bounds": "flush",
          "spec": {
            "width": 293, "height": 36,
            "layer": [
              {"mark": {"type": "line", "strokeWidth": 2.6},
               "encoding": {
                 "x": {"field": "t", "type": "quantitative", "scale": {"domain": [0, 29], "nice": false}, "axis": {"title": "Ablation time (s)", "labels": false, "ticks": false, "domain": false, "grid": false, "titleFont": "Lato", "titleFontSize": 15, "titleFontWeight": "bold", "titleColor": "#222", "titlePadding": 14}},
                 "y": {"field": "o", "type": "quantitative", "scale": {"domain": [455, 780], "nice": false, "zero": false}, "axis": {"orient": "left", "values": [500, 600, 700], "title": null, "minExtent": 29}},
                 "color": {"datum": "Original eU", "scale": {"domain": ["Original eU", "DF-corrected eU"], "range": ["#231f20", "#1b75bc"]},
                   "legend": {"title": "NIST SRM 610", "symbolType": "stroke", "legendX": 34, "legendY": -55}}
               }},
              {"transform": [{"filter": "isValid(datum.f)"}],
               "mark": {"type": "line", "color": "#ee3b3b", "strokeWidth": 1.6},
               "encoding": {"x": {"field": "t", "type": "quantitative"}, "y": {"field": "f", "type": "quantitative", "axis": null}}},
              {"mark": {"type": "line", "strokeWidth": 2.6},
               "encoding": {
                 "x": {"field": "t", "type": "quantitative"},
                 "y": {"field": "c", "type": "quantitative", "axis": {"orient": "right", "values": [500, 600, 700], "title": null}},
                 "color": {"datum": "DF-corrected eU"}
               }},
              {"transform": [{"filter": "isValid(datum.r)"}],
               "mark": {"type": "text", "color": "#ef4136", "font": "Liberation Sans", "fontSize": 13, "align": "left", "baseline": "top", "dx": 4, "dy": 2},
               "encoding": {"x": {"field": "t", "type": "quantitative"}, "y": {"datum": 455, "type": "quantitative", "axis": null}, "text": {"field": "r"}}}
            ],
            "resolve": {"axis": {"y": "independent"}}
          }
        },
        {
          "data": {"name": "c2"},
          "facet": {"row": {"field": "p", "type": "ordinal", "title": null, "header": {"labels": false}}},
          "spacing": {"row": 27.5},
          "bounds": "flush",
          "spec": {
            "width": 293, "height": 39,
            "layer": [
              {"mark": {"type": "line", "strokeWidth": 2.6},
               "encoding": {
                 "x": {"field": "t", "type": "quantitative", "scale": {"domain": [0, 29], "nice": false}, "axis": {"title": "Ablation time (s)", "labels": false, "ticks": false, "domain": false, "grid": false, "titleFont": "Lato", "titleFontSize": 15, "titleFontWeight": "bold", "titleColor": "#222", "titlePadding": 14}},
                 "y": {"field": "o", "type": "quantitative", "scale": {"domain": [35, 77], "nice": false, "zero": false}, "axis": {"orient": "left", "values": [40, 60], "title": null}},
                 "color": {"datum": "Original eU", "scale": {"domain": ["Original eU", "DF-corrected eU"], "range": ["#231f20", "#e4672d"]},
                   "legend": {"title": "NIST SRM 612", "symbolType": "stroke", "legendX": 34, "legendY": -55}}
               }},
              {"mark": {"type": "line", "strokeWidth": 2.6},
               "encoding": {
                 "x": {"field": "t", "type": "quantitative"},
                 "y": {"field": "c", "type": "quantitative", "axis": {"orient": "right", "values": [40, 60], "title": null}},
                 "color": {"datum": "DF-corrected eU"}
               }}
            ],
            "resolve": {"axis": {"y": "independent"}}
          }
        },
        {
          "data": {"name": "c3"},
          "facet": {"row": {"field": "p", "type": "ordinal", "title": null, "header": {"labels": false}}},
          "spacing": {"row": 27.6},
          "bounds": "flush",
          "spec": {
            "width": 293, "height": 50,
            "layer": [
              {"mark": {"type": "line", "strokeWidth": 2.6},
               "encoding": {
                 "x": {"field": "t", "type": "quantitative", "scale": {"domain": [0, 29], "nice": false}, "axis": {"title": "Ablation time (s)", "labels": false, "ticks": false, "domain": false, "grid": false, "titleFont": "Lato", "titleFontSize": 15, "titleFontWeight": "bold", "titleColor": "#222", "titlePadding": 14}},
                 "y": {"field": "o", "type": "quantitative", "scale": {"domain": [38, 86], "nice": false, "zero": false}, "axis": {"orient": "left", "values": [40, 60, 80], "title": null}},
                 "color": {"datum": "Original eU", "scale": {"domain": ["Original eU", "DF-corrected eU"], "range": ["#231f20", "#eab237"]},
                   "legend": {"title": "91500", "titlePadding": 53, "symbolType": "stroke", "legendX": 34, "legendY": -55}}
               }},
              {"mark": {"type": "line", "strokeWidth": 2.6},
               "encoding": {
                 "x": {"field": "t", "type": "quantitative"},
                 "y": {"field": "c", "type": "quantitative", "axis": {"orient": "right", "values": [40, 60, 80], "title": null}},
                 "color": {"datum": "DF-corrected eU"}
               }}
            ],
            "resolve": {"axis": {"y": "independent"}}
          }
        },
        {
          "data": {"name": "c4"},
          "bounds": "flush",
          "spacing": 18.2,
          "vconcat": [
            {"title": {"text": "(selected examples for visualisation, not exhaustive)", "font": "Lato", "fontSize": 9, "fontWeight": "normal", "color": "#444", "offset": 3},
             "width": 294, "height": 47, "transform": [{"filter": "datum.p == 1"}],
             "layer": [
               {"mark": {"type": "line", "strokeWidth": 2.6}, "encoding": {"x": {"field": "t", "type": "quantitative", "scale": {"domain": [0, 29], "nice": false}, "axis": null}, "y": {"field": "o", "type": "quantitative", "scale": {"domain": [357, 683], "nice": false, "zero": false}, "axis": {"values": [400, 500, 600], "title": null}},
                 "color": {"datum": "Original eU", "scale": {"domain": ["Original eU", "DF-corrected eU"], "range": ["#231f20", "#7a3494"]},
                   "legend": {"title": "zFCT", "titlePadding": 58, "symbolType": "stroke", "legendX": 34, "legendY": -55}}}},
               {"mark": {"type": "line", "strokeWidth": 2.6}, "encoding": {"x": {"field": "t", "type": "quantitative"}, "y": {"field": "c", "type": "quantitative", "axis": {"orient": "right", "values": [400, 500, 600], "title": null}}, "color": {"datum": "DF-corrected eU"}}}
             ],
             "resolve": {"axis": {"y": "independent"}}},
            {"width": 294, "height": 47, "transform": [{"filter": "datum.p == 2"}],
             "layer": [
               {"mark": {"type": "line", "strokeWidth": 2.6}, "encoding": {"x": {"field": "t", "type": "quantitative", "scale": {"domain": [0, 29], "nice": false}, "axis": null}, "y": {"field": "o", "type": "quantitative", "scale": {"domain": [240, 1710], "nice": false, "zero": false}, "axis": {"values": [500, 1000, 1500], "title": null}}, "color": {"datum": "Original eU"}}},
               {"mark": {"type": "line", "strokeWidth": 2.6}, "encoding": {"x": {"field": "t", "type": "quantitative"}, "y": {"field": "c", "type": "quantitative", "axis": {"orient": "right", "values": [500, 1000, 1500], "title": null}}, "color": {"datum": "DF-corrected eU"}}}
             ],
             "resolve": {"axis": {"y": "independent"}}},
            {"width": 294, "height": 47, "transform": [{"filter": "datum.p == 3"}],
             "layer": [
               {"mark": {"type": "line", "strokeWidth": 2.6}, "encoding": {"x": {"field": "t", "type": "quantitative", "scale": {"domain": [0, 29], "nice": false}, "axis": null}, "y": {"field": "o", "type": "quantitative", "scale": {"domain": [300, 600], "nice": false, "zero": false}, "axis": {"values": [400, 500], "title": null}}, "color": {"datum": "Original eU"}}},
               {"mark": {"type": "line", "strokeWidth": 2.6}, "encoding": {"x": {"field": "t", "type": "quantitative"}, "y": {"field": "c", "type": "quantitative", "axis": {"orient": "right", "values": [350, 400, 450, 500, 550], "title": null}}, "color": {"datum": "DF-corrected eU"}}}
             ],
             "resolve": {"axis": {"y": "independent"}}},
            {"width": 294, "height": 47, "transform": [{"filter": "datum.p == 4"}],
             "layer": [
               {"mark": {"type": "line", "strokeWidth": 2.6}, "encoding": {"x": {"field": "t", "type": "quantitative", "scale": {"domain": [0, 29], "nice": false}, "axis": null}, "y": {"field": "o", "type": "quantitative", "scale": {"domain": [155, 192], "nice": false, "zero": false}, "axis": {"values": [160, 180], "title": null}}, "color": {"datum": "Original eU"}}},
               {"mark": {"type": "line", "strokeWidth": 2.6}, "encoding": {"x": {"field": "t", "type": "quantitative"}, "y": {"field": "c", "type": "quantitative", "axis": {"orient": "right", "values": [160, 180], "title": null}}, "color": {"datum": "DF-corrected eU"}}}
             ],
             "resolve": {"axis": {"y": "independent"}}},
            {"width": 294, "height": 47, "transform": [{"filter": "datum.p == 5"}],
             "layer": [
               {"mark": {"type": "line", "strokeWidth": 2.6}, "encoding": {"x": {"field": "t", "type": "quantitative", "scale": {"domain": [0, 29], "nice": false}, "axis": null}, "y": {"field": "o", "type": "quantitative", "scale": {"domain": [236, 868], "nice": false, "zero": false}, "axis": {"values": [400, 600, 800], "title": null}}, "color": {"datum": "Original eU"}}},
               {"mark": {"type": "line", "strokeWidth": 2.6}, "encoding": {"x": {"field": "t", "type": "quantitative"}, "y": {"field": "c", "type": "quantitative", "axis": {"orient": "right", "values": [400, 600, 800], "title": null}}, "color": {"datum": "DF-corrected eU"}}}
             ],
             "resolve": {"axis": {"y": "independent"}}},
            {"width": 294, "height": 47, "transform": [{"filter": "datum.p == 6"}],
             "layer": [
               {"mark": {"type": "line", "strokeWidth": 2.6}, "encoding": {"x": {"field": "t", "type": "quantitative", "scale": {"domain": [0, 29], "nice": false}, "axis": null}, "y": {"field": "o", "type": "quantitative", "scale": {"domain": [357, 649], "nice": false, "zero": false}, "axis": {"values": [400, 500, 600], "title": null}}, "color": {"datum": "Original eU"}}},
               {"mark": {"type": "line", "strokeWidth": 2.6}, "encoding": {"x": {"field": "t", "type": "quantitative"}, "y": {"field": "c", "type": "quantitative", "axis": {"orient": "right", "values": [400, 500, 600], "title": null}}, "color": {"datum": "DF-corrected eU"}}}
             ],
             "resolve": {"axis": {"y": "independent"}}},
            {"width": 294, "height": 47, "transform": [{"filter": "datum.p == 7"}],
             "layer": [
               {"mark": {"type": "line", "strokeWidth": 2.6}, "encoding": {"x": {"field": "t", "type": "quantitative", "scale": {"domain": [0, 29], "nice": false}, "axis": {"title": "Ablation time (s)", "labels": false, "ticks": false, "domain": false, "grid": false, "titleFont": "Lato", "titleFontSize": 15, "titleFontWeight": "bold", "titleColor": "#222", "titlePadding": 14}}, "y": {"field": "o", "type": "quantitative", "scale": {"domain": [246, 920], "nice": false, "zero": false}, "axis": {"values": [400, 600, 800], "title": null}}, "color": {"datum": "Original eU"}}},
               {"mark": {"type": "line", "strokeWidth": 2.6}, "encoding": {"x": {"field": "t", "type": "quantitative"}, "y": {"field": "c", "type": "quantitative", "axis": {"orient": "right", "values": [400, 600, 800], "title": null}}, "color": {"datum": "DF-corrected eU"}}}
             ],
             "resolve": {"axis": {"y": "independent"}}}
          ]
        }
      ],
      "spacing": 16.5,
      "resolve": {"scale": {"color": "independent"}}
    },
    {
      "hconcat": [
        {
          "width": 292, "height": 84,
          "view": {"stroke": "#222", "strokeWidth": 1.2},
          "layer": [
            {"data": {"name": "d1"},
             "mark": {"type": "area", "opacity": 0.5, "interpolate": "monotone"},
             "encoding": {
               "x": {"field": "x", "type": "quantitative", "scale": {"domain": [-0.1, 0.1], "nice": false}, "axis": {"values": [-0.1, -0.05, 0, 0.05, 0.1], "labelExpr": "datum.value == 0 ? '0' : replace(format(datum.value, '.2f'), '−', '-')", "title": "Norm. eU slope (µg g⁻¹/µm/µg g⁻¹)", "titleFont": "Lato", "titleFontSize": 16, "titleFontWeight": "bold", "titleColor": "#222", "grid": false, "domain": false, "tickSize": 4, "tickColor": "#222", "labelPadding": 3, "titlePadding": 3, "labelFlush": false}},
               "y": {"field": "d", "type": "quantitative", "stack": null, "scale": {"domain": [0, 1], "nice": false}, "axis": {"title": "Density", "titleX": -31, "titleY": 42, "titleAngle": -90, "titleAlign": "center", "titleBaseline": "middle", "minExtent": 0, "labels": false, "ticks": false, "grid": false, "domain": false, "titleFont": "Lato", "titleFontSize": 15, "titleFontWeight": "bold", "titleColor": "#222"}},
               "color": {"field": "g", "type": "nominal", "scale": {"domain": ["o", "c"], "range": ["#161616", "#1a5fc0"]},
                 "legend": {"orient": "top-right", "title": null, "labelExpr": "datum.label == 'o' ? 'Original norm. eU slopes' : 'DF-corrected norm. eU slopes'", "labelFont": "Lato", "labelFontSize": 9.5, "labelColor": "#333", "symbolType": "M-1,-0.42H1V0.42H-1Z", "symbolSize": 64, "symbolOpacity": 1, "symbolStrokeWidth": 0, "rowPadding": 2, "offset": 5, "padding": 0, "labelOffset": 3, "strokeColor": "transparent", "clipHeight": null}}
             }},
            {"data": {"name": "refs"},
             "mark": {"type": "rule", "strokeDash": [4, 3], "color": "#333", "strokeWidth": 1},
             "encoding": {"x": {"field": "v", "type": "quantitative"}}}
          ]
        },
        {
          "width": 303, "height": 84,
          "view": {"stroke": "#222", "strokeWidth": 1.2},
          "layer": [
            {"data": {"name": "d2"},
             "mark": {"type": "area", "opacity": 0.5, "interpolate": "monotone"},
             "encoding": {
               "x": {"field": "x", "type": "quantitative", "scale": {"domain": [-0.1, 0.1], "nice": false}, "axis": {"values": [-0.1, -0.05, 0, 0.05, 0.1], "labelExpr": "datum.value == 0 ? '0' : replace(format(datum.value, '.2f'), '−', '-')", "title": "Norm. eU slope (µg g⁻¹/µm/µg g⁻¹)", "titleFont": "Lato", "titleFontSize": 16, "titleFontWeight": "bold", "titleColor": "#222", "grid": false, "domain": false, "tickSize": 4, "tickColor": "#222", "labelPadding": 3, "titlePadding": 3, "labelFlush": false}},
               "y": {"field": "d", "type": "quantitative", "stack": null, "scale": {"domain": [0, 1], "nice": false}, "axis": null},
               "color": {"field": "g", "type": "nominal", "scale": {"domain": ["o", "c"], "range": ["#161616", "#d9520a"]},
                 "legend": {"orient": "top-right", "title": null, "labelExpr": "datum.label == 'o' ? 'Original norm. eU slopes' : 'DF-corrected norm. eU slopes'", "labelFont": "Lato", "labelFontSize": 9.5, "labelColor": "#333", "symbolType": "M-1,-0.42H1V0.42H-1Z", "symbolSize": 64, "symbolOpacity": 1, "symbolStrokeWidth": 0, "rowPadding": 2, "offset": 5, "padding": 0, "labelOffset": 3, "strokeColor": "transparent", "clipHeight": null}}
             }},
            {"data": {"name": "refs"},
             "mark": {"type": "rule", "strokeDash": [4, 3], "color": "#333", "strokeWidth": 1},
             "encoding": {"x": {"field": "v", "type": "quantitative"}}}
          ]
        },
        {
          "width": 303, "height": 84,
          "view": {"stroke": "#222", "strokeWidth": 1.2},
          "layer": [
            {"data": {"name": "d3"},
             "mark": {"type": "area", "opacity": 0.5, "interpolate": "monotone"},
             "encoding": {
               "x": {"field": "x", "type": "quantitative", "scale": {"domain": [-0.1, 0.1], "nice": false}, "axis": {"values": [-0.1, -0.05, 0, 0.05, 0.1], "labelExpr": "datum.value == 0 ? '0' : replace(format(datum.value, '.2f'), '−', '-')", "title": "Norm. eU slope (µg g⁻¹/µm/µg g⁻¹)", "titleFont": "Lato", "titleFontSize": 16, "titleFontWeight": "bold", "titleColor": "#222", "grid": false, "domain": false, "tickSize": 4, "tickColor": "#222", "labelPadding": 3, "titlePadding": 3, "labelFlush": false}},
               "y": {"field": "d", "type": "quantitative", "stack": null, "scale": {"domain": [0, 1], "nice": false}, "axis": null},
               "color": {"field": "g", "type": "nominal", "scale": {"domain": ["o", "c"], "range": ["#161616", "#e39d19"]},
                 "legend": {"orient": "top-right", "title": null, "labelExpr": "datum.label == 'o' ? 'Original norm. eU slopes' : 'DF-corrected norm. eU slopes'", "labelFont": "Lato", "labelFontSize": 9.5, "labelColor": "#333", "symbolType": "M-1,-0.42H1V0.42H-1Z", "symbolSize": 64, "symbolOpacity": 1, "symbolStrokeWidth": 0, "rowPadding": 2, "offset": 5, "padding": 0, "labelOffset": 3, "strokeColor": "transparent", "clipHeight": null}}
             }},
            {"data": {"name": "refs"},
             "mark": {"type": "rule", "strokeDash": [4, 3], "color": "#333", "strokeWidth": 1},
             "encoding": {"x": {"field": "v", "type": "quantitative"}}}
          ]
        },
        {
          "width": 303, "height": 84,
          "view": {"stroke": "#222", "strokeWidth": 1.2},
          "layer": [
            {"data": {"name": "d4"},
             "mark": {"type": "area", "opacity": 0.5, "interpolate": "monotone"},
             "encoding": {
               "x": {"field": "x", "type": "quantitative", "scale": {"domain": [-0.1, 0.1], "nice": false}, "axis": {"values": [-0.1, -0.05, 0, 0.05, 0.1], "labelExpr": "datum.value == 0 ? '0' : replace(format(datum.value, '.2f'), '−', '-')", "title": "Norm. eU slope (µg g⁻¹/µm/µg g⁻¹)", "titleFont": "Lato", "titleFontSize": 16, "titleFontWeight": "bold", "titleColor": "#222", "grid": false, "domain": false, "tickSize": 4, "tickColor": "#222", "labelPadding": 3, "titlePadding": 3, "labelFlush": false}},
               "y": {"field": "d", "type": "quantitative", "stack": null, "scale": {"domain": [0, 1], "nice": false}, "axis": null},
               "color": {"field": "g", "type": "nominal", "scale": {"domain": ["o", "c"], "range": ["#161616", "#611789"]},
                 "legend": {"orient": "top-left", "title": null, "labelExpr": "datum.label == 'o' ? 'Original norm. eU slopes' : 'DF-corrected norm. eU slopes'", "labelFont": "Lato", "labelFontSize": 9.5, "labelColor": "#333", "symbolType": "M-1,-0.42H1V0.42H-1Z", "symbolSize": 64, "symbolOpacity": 1, "symbolStrokeWidth": 0, "rowPadding": 2, "offset": 5, "padding": 0, "labelOffset": 3, "strokeColor": "transparent", "clipHeight": null}}
             }},
            {"data": {"name": "refs"},
             "mark": {"type": "rule", "strokeDash": [4, 3], "color": "#333", "strokeWidth": 1},
             "encoding": {"x": {"field": "v", "type": "quantitative"}}},
            {"data": {"values": [{}]},
             "mark": {"type": "text", "text": "= 30", "font": "Liberation Sans", "fontSize": 14, "color": "#111", "align": "right", "baseline": "top"},
             "encoding": {"x": {"datum": 0.097}, "y": {"datum": 0.96}}},
            {"data": {"values": [{}]},
             "mark": {"type": "text", "text": "n", "font": "Liberation Sans", "fontSize": 14, "fontStyle": "italic", "color": "#111", "align": "right", "baseline": "top", "dx": -31},
             "encoding": {"x": {"datum": 0.097}, "y": {"datum": 0.96}}}
          ]
        }
      ],
      "spacing": 15.5,
      "resolve": {"scale": {"color": "independent"}}
    }
  ],
  "spacing": 2,
  "resolve": {"scale": {"color": "independent"}}
}
